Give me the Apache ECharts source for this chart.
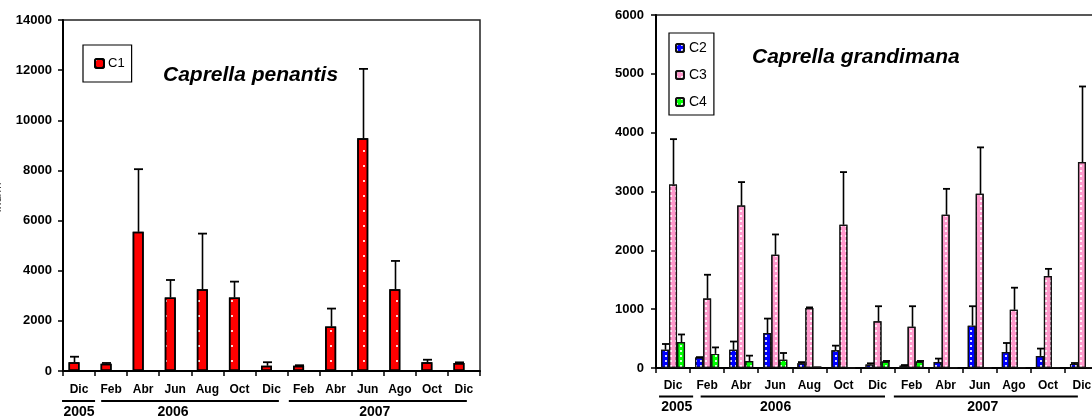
<!DOCTYPE html>
<html>
<head>
<meta charset="utf-8">
<script src="https://cdn.jsdelivr.net/npm/echarts@6/dist/echarts.min.js"></script>
<style>
html,body{margin:0;padding:0;background:#fff;overflow:hidden;width:1092px;height:416px;}
#c{width:1100px;height:416px;}
</style>
</head>
<body>
<div id="c"></div>
<script>
// ---------- data ----------
const MONTHS = ['Dic','Feb','Abr','Jun','Aug','Oct','Dic','Feb','Abr','Jun','Ago','Oct','Dic'];
const YEARS = ['2005','2006','2007'];
const YEAR_GROUPS = [[0,0],[1,6],[7,12]];

const C1 = [350, 290, 5550, 2930, 3260, 2930, 210, 210, 1770, 9280, 3260, 345, 320];
const C1_TOP = [570, 320, 8050, 3630, 5480, 3565, 350, 230, 2490, 12050, 4390, 450, 345];

const C2 = [310, 180, 310, 595, 80, 300, 60, 40, 100, 720, 270, 205, 70];
const C2_TOP = [408, 185, 450, 840, 100, 380, 80, 50, 160, 1050, 425, 330, 85];
const C3 = [3120, 1180, 2760, 1925, 1020, 2435, 795, 700, 2605, 2960, 990, 1565, 3500];
const C3_TOP = [3890, 1585, 3160, 2270, 1030, 3330, 1050, 1050, 3045, 3750, 1365, 1685, 4785];
const C4 = [440, 240, 120, 140, 25, 5, 110, 110, 10, 5, 10, 10, 10];
const C4_TOP = [570, 350, 210, 255, null, null, 120, 120, null, null, null, null, null];

const Y_LEFT_TICKS = [0, 2000, 4000, 6000, 8000, 10000, 12000, 14000];
const Y_RIGHT_TICKS = [0, 1000, 2000, 3000, 4000, 5000, 6000];

// ---------- style ----------
const FONT = 'Liberation Sans, Arial, sans-serif';
const LEFT_BAR_W = 11, LEFT_GAP = -1;
const RIGHT_BAR_W = 8;

function errSeries(name, vals, tops, xAxisIndex, yAxisIndex, offsetPx, capW) {
  return {
    type: 'custom', name: name, xAxisIndex: xAxisIndex, yAxisIndex: yAxisIndex,
    z: 5, silent: true,
    data: vals.map((v, i) => [i, v, tops[i]]),
    renderItem: function (params, api) {
      const t = api.value(2);
      if (t === null || t === undefined || isNaN(t)) return null;
      const b = api.coord([api.value(0), api.value(1)]);
      const p = api.coord([api.value(0), t]);
      const x = Math.round(b[0] + offsetPx) + 0.5;
      return {
        type: 'group',
        children: [
          {type: 'line', shape: {x1: x, y1: b[1], x2: x, y2: p[1]}, style: {stroke: '#000', lineWidth: 1.6}},
          {type: 'line', shape: {x1: x - capW / 2, y1: p[1], x2: x + capW / 2, y2: p[1]}, style: {stroke: '#000', lineWidth: 1.8}}
        ]
      };
    }
  };
}

const decalBig = {symbol: 'rect', symbolSize: 1, color: 'rgba(255,255,255,0.85)', dashArrayX: [2, 9], dashArrayY: [2, 12.5]};
const decalSmall = {symbol: 'rect', symbolSize: 1, color: 'rgba(255,255,255,0.85)', dashArrayX: [1.5, 2.5], dashArrayY: [1.5, 2.5]};

const yLabelStyle = {fontFamily: FONT, fontWeight: 'bold', fontSize: 13, color: '#000', formatter: v => String(v)};

const chart = echarts.init(document.getElementById('c'), null, {renderer: 'canvas'});

const option = {
  animation: false,
  backgroundColor: '#fff',
  grid: [
    {left: 63, top: 20, width: 417, bottom: 45, show: true, borderColor: '#222', borderWidth: 1.5, backgroundColor: 'transparent', containLabel: false, outerBoundsMode: 'none'},
    {left: 656, top: 15, width: 443, bottom: 48, show: true, borderColor: '#222', borderWidth: 1.5, backgroundColor: 'transparent', containLabel: false, outerBoundsMode: 'none'}
  ],
  title: [
    {text: 'Caprella penantis', left: 158, top: 60, textStyle: {fontFamily: FONT, fontSize: 21, fontWeight: 'bold', fontStyle: 'italic', color: '#000'}},
    {text: 'Caprella grandimana', left: 747, top: 42, textStyle: {fontFamily: FONT, fontSize: 21, fontWeight: 'bold', fontStyle: 'italic', color: '#000'}}
  ],
  legend: [
    {data: ['C1'], left: 83, top: 45, orient: 'vertical', padding: [12, 7, 12, 11],
     borderColor: '#000', borderWidth: 1.2, itemWidth: 9, itemHeight: 9, itemGap: 5,
     textStyle: {fontFamily: FONT, fontSize: 13, color: '#000', padding: [0, 0, 0, -1]}},
    {data: ['C2', 'C3', 'C4'], left: 669, top: 33, orient: 'vertical', padding: [8, 7, 6, 6],
     borderColor: '#000', borderWidth: 1.2, itemWidth: 8, itemHeight: 8, itemGap: 13,
     textStyle: {fontFamily: FONT, fontSize: 14, color: '#000'}}
  ],
  xAxis: [
    {type: 'category', gridIndex: 0, data: MONTHS, boundaryGap: true,
     axisLine: {lineStyle: {color: '#000', width: 2}},
     axisTick: {show: true, length: 5, inside: false, lineStyle: {color: '#000', width: 1.5}},
     axisLabel: {interval: 0, margin: 13, fontFamily: FONT, fontWeight: 'bold', fontSize: 12, color: '#000'}},
    {type: 'category', gridIndex: 1, data: MONTHS, boundaryGap: true,
     axisLine: {lineStyle: {color: '#000', width: 2}},
     axisTick: {show: true, length: 5, inside: false, lineStyle: {color: '#000', width: 1.5}},
     axisLabel: {interval: 0, margin: 12, fontFamily: FONT, fontWeight: 'bold', fontSize: 12, color: '#000'}}
  ],
  yAxis: [
    {type: 'value', gridIndex: 0, min: Y_LEFT_TICKS[0], max: Y_LEFT_TICKS[Y_LEFT_TICKS.length - 1], interval: Y_LEFT_TICKS[1] - Y_LEFT_TICKS[0],
     name: 'Ind/m²', nameLocation: 'middle', nameRotate: 90, nameGap: 59,
     nameTextStyle: {fontFamily: FONT, fontSize: 12, color: '#444'},
     splitLine: {show: false},
     axisLine: {show: true, lineStyle: {color: '#000', width: 2}},
     axisTick: {show: true, length: 5, lineStyle: {color: '#000', width: 1.5}},
     axisLabel: Object.assign({margin: 11}, yLabelStyle)},
    {type: 'value', gridIndex: 1, min: Y_RIGHT_TICKS[0], max: Y_RIGHT_TICKS[Y_RIGHT_TICKS.length - 1], interval: Y_RIGHT_TICKS[1] - Y_RIGHT_TICKS[0],
     splitLine: {show: false},
     axisLine: {show: true, lineStyle: {color: '#000', width: 2}},
     axisTick: {show: true, length: 5, lineStyle: {color: '#000', width: 1.5}},
     axisLabel: Object.assign({margin: 12}, yLabelStyle)}
  ],
  series: [
    {type: 'bar', name: 'C1', xAxisIndex: 0, yAxisIndex: 0, data: C1, barWidth: LEFT_BAR_W, barGap: (LEFT_GAP / LEFT_BAR_W * 100) + '%',
     itemStyle: {color: '#FF0000', borderColor: '#000', borderWidth: 1.5, decal: decalBig}},
    {type: 'bar', name: '_pad', xAxisIndex: 0, yAxisIndex: 0, data: C1.map(() => null), barWidth: LEFT_BAR_W,
     itemStyle: {color: 'transparent'}},
    errSeries('eC1', C1, C1_TOP, 0, 0, -(LEFT_BAR_W + LEFT_GAP) / 2, 9),

    {type: 'bar', name: 'C2', xAxisIndex: 1, yAxisIndex: 1, data: C2, barWidth: RIGHT_BAR_W, barGap: '0%',
     itemStyle: {color: '#0000FF', borderColor: '#111', borderWidth: 1.2, decal: decalSmall}},
    {type: 'bar', name: 'C3', xAxisIndex: 1, yAxisIndex: 1, data: C3, barWidth: RIGHT_BAR_W, barGap: '0%',
     itemStyle: {color: '#FF99CC', borderColor: '#111', borderWidth: 1.2, decal: decalSmall}},
    {type: 'bar', name: 'C4', xAxisIndex: 1, yAxisIndex: 1, data: C4, barWidth: RIGHT_BAR_W, barGap: '0%',
     itemStyle: {color: '#00FF00', borderColor: '#111', borderWidth: 1.2, decal: decalSmall}},
    errSeries('eC2', C2, C2_TOP, 1, 1, -RIGHT_BAR_W, 7),
    errSeries('eC3', C3, C3_TOP, 1, 1, 0, 7),
    errSeries('eC4', C4, C4_TOP, 1, 1, RIGHT_BAR_W, 7)
  ]
};

chart.setOption(option);

// ---------- year grouping annotations (computed from the axes) ----------
const LAYOUT = [
  {axis: 0, lines: [[-0.53, 0.5], [0.69, 6.23], [6.54, 12.09]], labels: [0, 2.93, 9.22], lineDy: 30, textDy: 41},
  {axis: 1, lines: [[-0.41, 0.59], [0.81, 6.22], [6.48, 11.88]], labels: [0.11, 3.01, 9.09], lineDy: 28.5, textDy: 39}
];
const graphics = [];
LAYOUT.forEach(L => {
  const x0 = chart.convertToPixel({xAxisIndex: L.axis}, 0);
  const x1 = chart.convertToPixel({xAxisIndex: L.axis}, 1);
  const step = x1 - x0;
  const yBase = chart.convertToPixel({yAxisIndex: L.axis}, 0);
  const px = f => x0 + f * step;
  YEARS.forEach((yr, k) => {
    graphics.push({type: 'line', shape: {x1: px(L.lines[k][0]), y1: yBase + L.lineDy, x2: px(L.lines[k][1]), y2: yBase + L.lineDy},
      style: {stroke: '#000', lineWidth: 1.8}});
    graphics.push({type: 'text', x: px(L.labels[k]), y: yBase + L.textDy,
      style: {text: yr, fill: '#000', font: 'bold 14px ' + FONT, textAlign: 'center', textVerticalAlign: 'middle'}});
  });
});
chart.setOption({graphic: graphics});
</script>
</body>
</html>
